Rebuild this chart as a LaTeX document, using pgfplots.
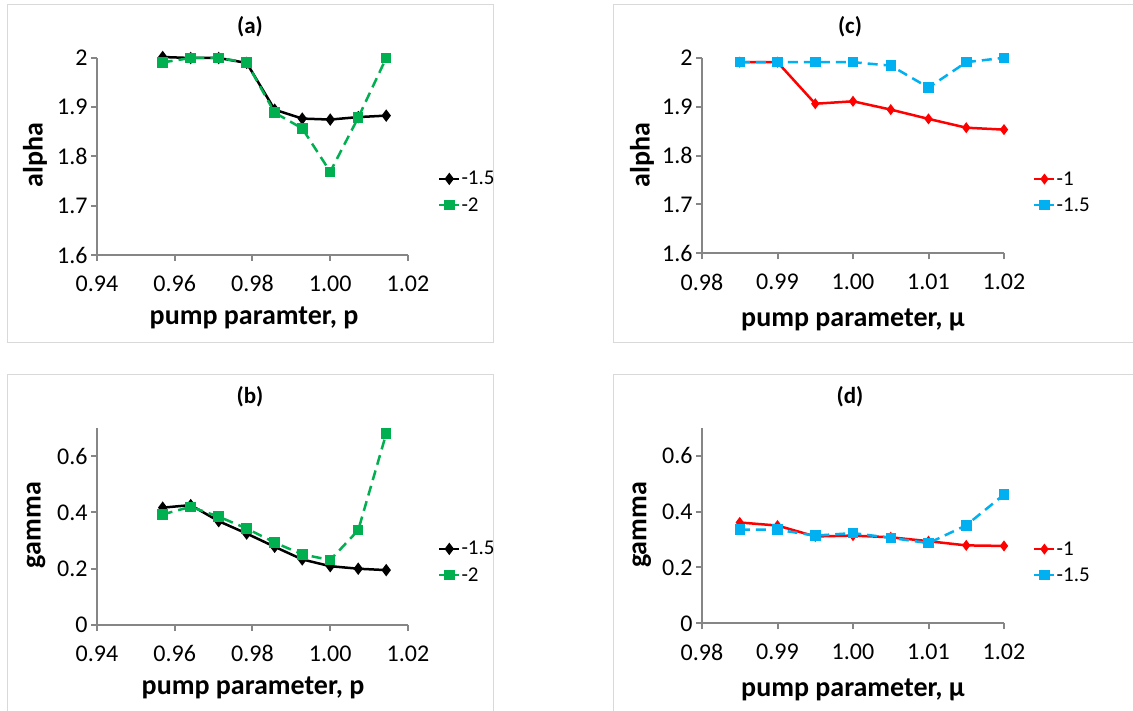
\documentclass[border=0pt]{standalone}
\usepackage{fontspec}
\setmainfont{Carlito}
\usepackage{pgfplots}
\pgfplotsset{compat=1.18}

\definecolor{axgray}{HTML}{868686}
\definecolor{framegray}{HTML}{D9D9D9}
\definecolor{xlgreen}{HTML}{00B050}
\definecolor{xlred}{HTML}{FF0000}
\definecolor{xlblue}{HTML}{00B0F0}

\newcommand\tickfont{\fontsize{24bp}{28bp}\selectfont}
\newcommand\labfont{\fontsize{28bp}{32bp}\selectfont\bfseries}
\newcommand\titfont{\fontsize{23bp}{27bp}\selectfont\bfseries}
\newcommand\legfont{\fontsize{21bp}{24bp}\selectfont}

\pgfplotsset{
  every axis title shift=0pt,
  xlchart/.style={
    scale only axis, clip=false,
    axis lines*=left,
    axis line style={axgray, line width=2.2bp},
    tick style={axgray, line width=2bp},
    major tick length=6bp,
    tick align=outside,
    tick label style={font=\tickfont},
    xticklabel style={yshift=-11bp},
    label style={font=\labfont},
    title style={font=\titfont, anchor=center},
    xlabel style={anchor=center},
    ylabel style={anchor=center},
    legend style={draw=none, fill=none, anchor=west, font=\legfont,
      inner sep=0pt, row sep=9bp, nodes={inner sep=1bp}},
    legend cell align=left,
    legend image code/.code={\draw[mark repeat=2,mark phase=2,##1] plot coordinates {(0bp,0bp) (10bp,0bp) (20bp,0bp)};},
  },
  pgrid/.style={xmin=0.94, xmax=1.02, xtick={0.94,0.96,0.98,1.00,1.02},
    xticklabels={0.94,0.96,0.98,1.00,1.02}, width=311bp, height=197bp},
  mugrid/.style={xmin=0.98, xmax=1.02, xtick={0.98,0.99,1.00,1.01,1.02},
    xticklabels={0.98,0.99,1.00,1.01,1.02}, width=302bp, height=195.5bp},
  alphay/.style={ymin=1.6, ymax=2, ytick={1.6,1.7,1.8,1.9,2},
    yticklabels={1.6,1.7,1.8,1.9,2}},
  gammay/.style={ymin=0, ymax=0.7, ytick={0,0.2,0.4,0.6},
    yticklabels={0,0.2,0.4,0.6}},
  blk/.style={black, line width=2.5bp, mark=diamond*, mark size=4.2bp, mark options={solid}},
  grn/.style={xlgreen, line width=2.5bp, dash pattern=on 10bp off 6bp, mark=square*, mark size=4bp, mark options={solid}},
  rd/.style={xlred, line width=2.5bp, mark=diamond*, mark size=3.5bp, mark options={solid}},
  blu/.style={xlblue, line width=2.5bp, dash pattern=on 10bp off 6bp, mark=square*, mark size=4bp, mark options={solid}},
}

\begin{document}
\begin{tikzpicture}
\useasboundingbox (0,0) rectangle (1133bp,711bp);
\fill[white] (0,0) rectangle (1133bp,711bp);
% chart frames
\draw[framegray, line width=1bp] (7bp,368bp) rectangle (493bp,706bp);
\draw[framegray, line width=1bp] (7bp,-5bp) rectangle (493bp,336bp);
\draw[framegray, line width=1bp] (613bp,368bp) rectangle (1140bp,706bp);
\draw[framegray, line width=1bp] (613bp,-5bp) rectangle (1140bp,336bp);

% (a)
\begin{axis}[xlchart, pgrid, alphay,
  at={(97bp,456bp)}, anchor=south west,
  title={(a)}, title style={at={(axis description cs:0.492,1.157)}},
  xlabel={pump paramter, p}, xlabel style={at={(axis description cs:0.505,-0.32)}},
  ylabel={alpha}, ylabel style={at={(axis description cs:-0.199,0.508)}},
  legend style={at={(axis description cs:1.096,0.32)}}]
\addplot[blk] coordinates {(0.9569,2.002) (0.9641,2.000) (0.9713,2.000) (0.9785,1.990)
  (0.9857,1.895) (0.9928,1.877) (1.0000,1.875) (1.0072,1.880) (1.0144,1.883)};
\addplot[grn] coordinates {(0.9569,1.991) (0.9641,2.000) (0.9713,2.000) (0.9785,1.991)
  (0.9857,1.889) (0.9928,1.857) (1.0000,1.769) (1.0072,1.879) (1.0144,2.000)};
\legend{-1.5,-2}
\end{axis}

% (b)
\begin{axis}[xlchart, pgrid, gammay,
  at={(97bp,86bp)}, anchor=south west,
  title={(b)}, title style={at={(axis description cs:0.492,1.157)}},
  xlabel={pump parameter, p}, xlabel style={at={(axis description cs:0.502,-0.32)}},
  ylabel={gamma}, ylabel style={at={(axis description cs:-0.196,0.507)}},
  legend style={at={(axis description cs:1.096,0.32)}}]
\addplot[blk] coordinates {(0.9569,0.417) (0.9641,0.426) (0.9713,0.369) (0.9785,0.325)
  (0.9857,0.278) (0.9928,0.233) (1.0000,0.209) (1.0072,0.200) (1.0144,0.195)};
\addplot[grn] coordinates {(0.9569,0.393) (0.9641,0.420) (0.9713,0.385) (0.9785,0.343)
  (0.9857,0.293) (0.9928,0.251) (1.0000,0.231) (1.0072,0.337) (1.0144,0.680)};
\legend{-1.5,-2}
\end{axis}

% (c)
\begin{axis}[xlchart, mugrid, alphay,
  at={(702bp,457.7bp)}, anchor=south west,
  title={(c)}, title style={at={(axis description cs:0.490,1.157)}},
  xlabel={pump parameter, μ}, xlabel style={at={(axis description cs:0.5,-0.341)}},
  ylabel={alpha}, ylabel style={at={(axis description cs:-0.199,0.503)}},
  legend style={at={(axis description cs:1.096,0.313)}}]
\addplot[rd] coordinates {(0.985,1.991) (0.990,1.991) (0.995,1.906) (1.000,1.911)
  (1.005,1.894) (1.010,1.875) (1.015,1.857) (1.020,1.853)};
\addplot[blu] coordinates {(0.985,1.991) (0.990,1.991) (0.995,1.991) (1.000,1.991)
  (1.005,1.984) (1.010,1.939) (1.015,1.991) (1.020,2.000)};
\legend{-1,-1.5}
\end{axis}

% (d)
\begin{axis}[xlchart, mugrid, gammay,
  at={(702bp,87.7bp)}, anchor=south west,
  title={(d)}, title style={at={(axis description cs:0.490,1.158)}},
  xlabel={pump parameter, μ}, xlabel style={at={(axis description cs:0.5,-0.341)}},
  ylabel={gamma}, ylabel style={at={(axis description cs:-0.199,0.503)}},
  legend style={at={(axis description cs:1.096,0.313)}}]
\addplot[rd] coordinates {(0.985,0.361) (0.990,0.350) (0.995,0.311) (1.000,0.314)
  (1.005,0.308) (1.010,0.294) (1.015,0.279) (1.020,0.277)};
\addplot[blu] coordinates {(0.985,0.335) (0.990,0.335) (0.995,0.314) (1.000,0.323)
  (1.005,0.306) (1.010,0.287) (1.015,0.351) (1.020,0.461)};
\legend{-1,-1.5}
\end{axis}
\end{tikzpicture}
\end{document}
